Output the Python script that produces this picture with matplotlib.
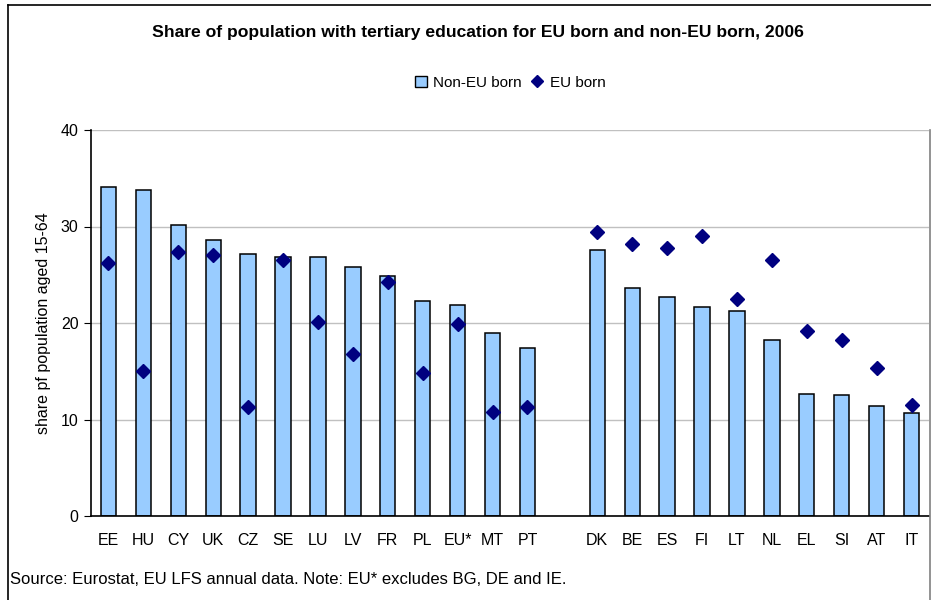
import numpy as np
import matplotlib
matplotlib.use("Agg")
import matplotlib.pyplot as plt
from matplotlib.patches import Rectangle
from matplotlib.lines import Line2D

plt.rcParams['font.family'] = ['Liberation Sans', 'DejaVu Sans']

# =========================
# DATA
# =========================

left_countries = ["EE", "HU", "CY", "UK", "CZ", "SE", "LU", "LV", "FR", "PL", "EU*", "MT", "PT"]
left_non_eu = [34.1, 33.8, 30.2, 28.6, 27.1, 26.8, 26.8, 25.8, 24.9, 22.3, 21.9, 19.0, 17.4]
left_eu = [26.2, 15.0, 27.4, 27.0, 11.3, 26.5, 20.1, 16.8, 24.2, 14.8, 19.9, 10.8, 11.3]

right_countries = ["DK", "BE", "ES", "FI", "LT", "NL", "EL", "SI", "AT", "IT"]
right_non_eu = [27.6, 23.6, 22.7, 21.7, 21.2, 18.2, 12.6, 12.5, 11.4, 10.7]
right_eu = [29.4, 28.2, 27.8, 29.0, 22.5, 26.5, 19.2, 18.2, 15.3, 11.5]

y_ticks = [0, 10, 20, 30, 40]

# =========================
# POSICIONES (hueco entre grupos)
# =========================

x_left = np.arange(len(left_countries))
x_right = np.arange(len(right_countries)) + len(left_countries) + 1
x_all = np.concatenate([x_left, x_right])
labels = left_countries + right_countries
non_eu = left_non_eu + right_non_eu
eu = left_eu + right_eu

# =========================
# GRAFICA
# =========================

fig = plt.figure(figsize=(9.31, 6), dpi=100)
ax = fig.add_axes([91 / 931, 84 / 600, 838 / 931, 386 / 600])

ax.bar(x_all, non_eu, width=0.44, color="#99CCFF", edgecolor="black",
       linewidth=1.1, zorder=2)
ax.plot(x_all, eu, linestyle="none", marker="D", markersize=7.3,
        color="#000080", zorder=3)

ax.set_xlim(-0.5, x_all[-1] + 0.5)
ax.set_ylim(0, 40)
ax.set_yticks(y_ticks)
ax.set_xticks(x_all)
ax.set_xticklabels(labels, fontsize=11.5)
ax.tick_params(axis="x", length=0, pad=12)
ax.tick_params(axis="y", length=5, direction="out", labelsize=11.5, pad=4)
ax.yaxis.grid(True, color="#C0C0C0", linewidth=1)
ax.set_axisbelow(True)

for side in ["top", "right"]:
    ax.spines[side].set_visible(False)
ax.spines["left"].set_color("black")
ax.spines["bottom"].set_color("black")
ax.spines["left"].set_linewidth(1.2)
ax.spines["bottom"].set_linewidth(1.2)

ax.set_ylabel("share pf population aged 15-64", fontsize=11.5, labelpad=7)

fig.text(0.513, 0.945, "Share of population with tertiary education for EU born and non-EU born, 2006",
         ha="center", va="center", fontsize=12.6, fontweight="bold")

handles = [
    Rectangle((0, 0), 1, 1, facecolor="#99CCFF", edgecolor="black", linewidth=1),
    Line2D([], [], linestyle="none", marker="D", markersize=6.5, color="#000080"),
]
fig.legend(handles, ["Non-EU born", "EU born"], loc="center", bbox_to_anchor=(0.548, 0.862),
           ncol=2, frameon=False, fontsize=11, handlelength=0.8, handletextpad=0.4,
           columnspacing=0.6)

fig.text(10 / 931, 1 - 580 / 600, "Source: Eurostat, EU LFS annual data. Note: EU* excludes BG, DE and IE.",
         ha="left", va="center", fontsize=12)

# marco del grafico
fig.add_artist(Line2D([7.5 / 931, 7.5 / 931], [0, 1 - 5 / 600], transform=fig.transFigure,
                      color="black", linewidth=1.2))
fig.add_artist(Line2D([7.5 / 931, 1], [1 - 5 / 600, 1 - 5 / 600], transform=fig.transFigure,
                      color="black", linewidth=1.2))
fig.add_artist(Line2D([929.5 / 931, 929.5 / 931], [0, 470 / 600], transform=fig.transFigure,
                      color="#808080", linewidth=1.2))

plt.savefig("out.png", dpi=100)
plt.close()
